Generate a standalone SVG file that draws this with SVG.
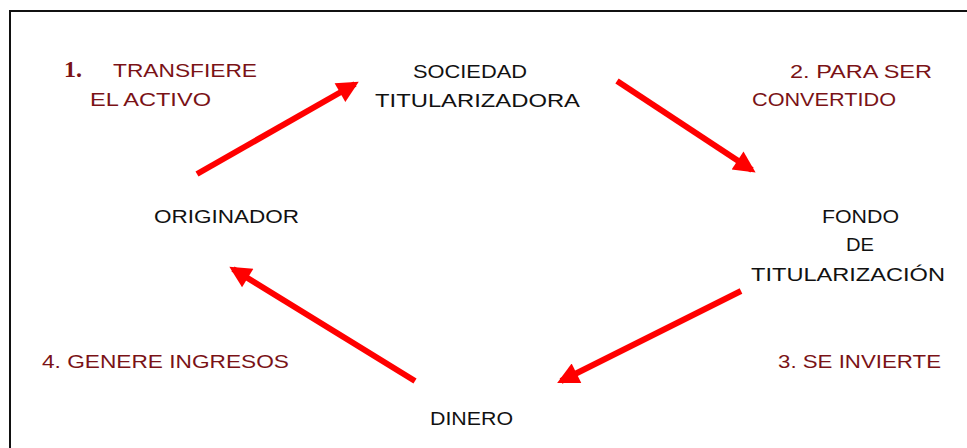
<svg xmlns="http://www.w3.org/2000/svg" width="967" height="448" viewBox="0 0 967 448">
  <defs>
    <style>
      .node { font-family: "Liberation Sans", "DejaVu Sans", sans-serif; font-size: 18px; fill: #111; }
      .step { font-family: "Liberation Sans", "DejaVu Sans", sans-serif; font-size: 18px; fill: #7a1216; }
      .num { font-family: "Liberation Serif", serif; font-size: 24px; font-weight: bold; fill: #7a1216; }
      .flow { stroke: #ff0000; stroke-width: 6; fill: none; marker-end: url(#head); }
    </style>
    <marker id="head" viewBox="0 0 10 10" refX="8" refY="5" markerWidth="4" markerHeight="3.6" orient="auto" markerUnits="strokeWidth">
      <path d="M0,0 L10,5 L0,10 z" fill="#ff0000"/>
    </marker>
  </defs>

  <rect x="0" y="0" width="967" height="448" fill="#ffffff"/>
  <!-- frame (open to the right and bottom) -->
  <path d="M10,460 L10,11 L980,11" fill="none" stroke="#111" stroke-width="2"/>

  <!-- cycle connectors -->
  <g id="connectors">
    <line class="flow" x1="197" y1="174" x2="355" y2="84"/>
    <line class="flow" x1="617" y1="81" x2="752" y2="170"/>
    <line class="flow" x1="741" y1="291" x2="561" y2="381"/>
    <line class="flow" x1="415" y1="381" x2="233" y2="269"/>
  </g>

  <g id="sociedad">
    <text class="node" x="413" y="78" textLength="114" lengthAdjust="spacingAndGlyphs">SOCIEDAD</text>
    <text class="node" x="375" y="107" textLength="205" lengthAdjust="spacingAndGlyphs">TITULARIZADORA</text>
  </g>
  <g id="originador">
    <text class="node" x="154" y="223" textLength="145" lengthAdjust="spacingAndGlyphs">ORIGINADOR</text>
  </g>
  <g id="fondo">
    <text class="node" x="822" y="223" textLength="77" lengthAdjust="spacingAndGlyphs">FONDO</text>
    <text class="node" x="846" y="251" textLength="28" lengthAdjust="spacingAndGlyphs">DE</text>
    <text class="node" x="751" y="281" textLength="194" lengthAdjust="spacingAndGlyphs">TITULARIZACIÓN</text>
  </g>
  <g id="dinero">
    <text class="node" x="430" y="425" textLength="83" lengthAdjust="spacingAndGlyphs">DINERO</text>
  </g>

  <!-- step labels -->
  <g id="step1">
    <text class="num" x="64" y="77">1.</text>
    <text class="step" x="113" y="77" textLength="144" lengthAdjust="spacingAndGlyphs">TRANSFIERE</text>
    <text class="step" x="90" y="106" textLength="121" lengthAdjust="spacingAndGlyphs">EL  ACTIVO</text>
  </g>
  <g id="step2">
    <text class="step" x="790" y="78" textLength="142" lengthAdjust="spacingAndGlyphs">2. PARA SER</text>
    <text class="step" x="752" y="106" textLength="144" lengthAdjust="spacingAndGlyphs">CONVERTIDO</text>
  </g>
  <g id="step3">
    <text class="step" x="778" y="368" textLength="163" lengthAdjust="spacingAndGlyphs">3. SE INVIERTE</text>
  </g>
  <g id="step4">
    <text class="step" x="42" y="368" textLength="247" lengthAdjust="spacingAndGlyphs">4. GENERE INGRESOS</text>
  </g>
</svg>
